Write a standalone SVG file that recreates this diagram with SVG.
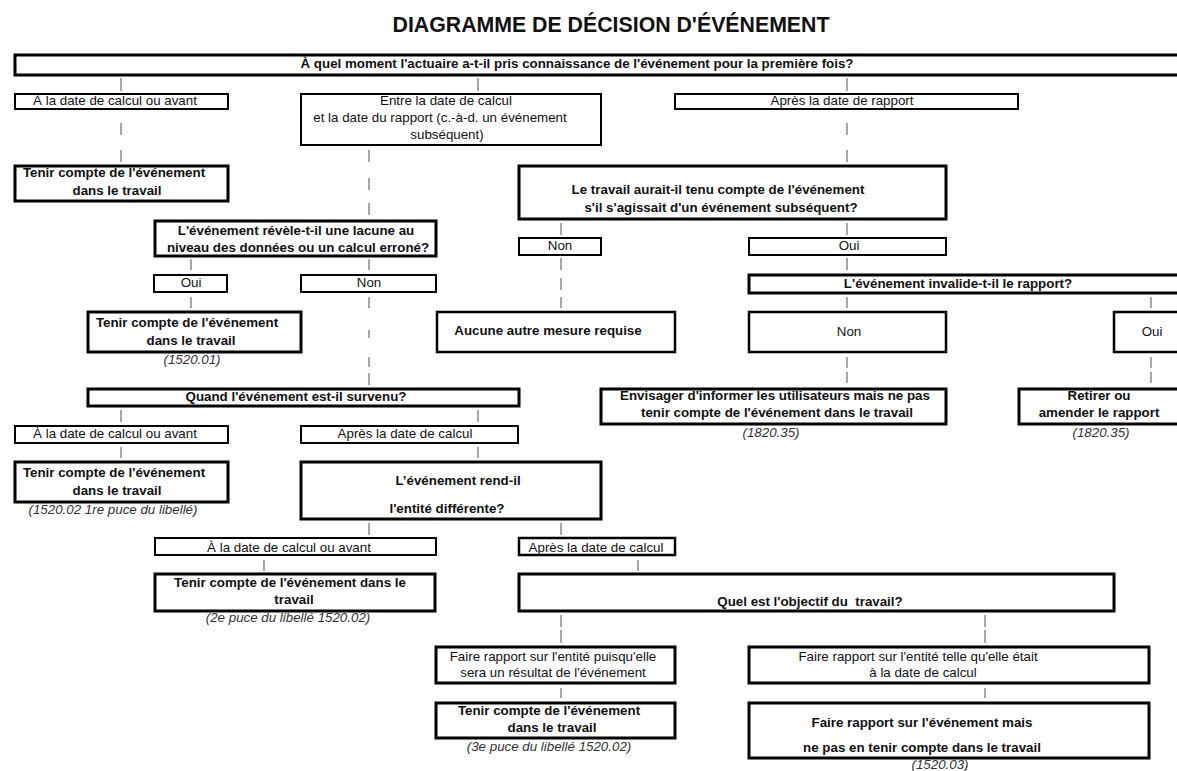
<svg xmlns="http://www.w3.org/2000/svg" width="1177" height="771" viewBox="0 0 1177 771">
<style>
text{font-family:"Liberation Sans",Arial,sans-serif;font-size:13.33px;fill:#111;text-anchor:middle}
.b{font-weight:bold}
.i{font-style:italic;fill:#333}
.t{font-size:21.3px;font-weight:bold}
.box{fill:#fff;stroke:#000;stroke-width:3}
.lbl{fill:#fff;stroke:#000;stroke-width:2}
.c line{stroke:#777;stroke-width:1.3}
</style>
<rect width="1177" height="771" fill="#fff"/>
<text class="t" x="611" y="32">DIAGRAMME DE DÉCISION D'ÉVÉNEMENT</text>

<g class="c" id="connectors">
<line x1="121" y1="78" x2="121" y2="91"/>
<line x1="478" y1="78" x2="478" y2="91"/>
<line x1="847" y1="78" x2="847" y2="91"/>
<line x1="121" y1="123" x2="121" y2="135"/>
<line x1="121" y1="150" x2="121" y2="162"/>
<line x1="847" y1="123" x2="847" y2="135"/>
<line x1="847" y1="150" x2="847" y2="162"/>
<line x1="369" y1="150" x2="369" y2="162"/>
<line x1="369" y1="178" x2="369" y2="190"/>
<line x1="369" y1="203" x2="369" y2="215"/>
<line x1="191" y1="259" x2="191" y2="270"/>
<line x1="369" y1="259" x2="369" y2="270"/>
<line x1="191" y1="297" x2="191" y2="308"/>
<line x1="369" y1="297" x2="369" y2="308"/>
<line x1="369" y1="330" x2="369" y2="338"/>
<line x1="369" y1="357" x2="369" y2="367"/>
<line x1="369" y1="373" x2="369" y2="385"/>
<line x1="561" y1="223" x2="561" y2="235"/>
<line x1="847" y1="223" x2="847" y2="235"/>
<line x1="561" y1="258" x2="561" y2="270"/>
<line x1="561" y1="278" x2="561" y2="290"/>
<line x1="561" y1="297" x2="561" y2="308"/>
<line x1="847" y1="258" x2="847" y2="270"/>
<line x1="847" y1="297" x2="847" y2="308"/>
<line x1="1151" y1="297" x2="1151" y2="308"/>
<line x1="847" y1="357" x2="847" y2="368"/>
<line x1="847" y1="372" x2="847" y2="383"/>
<line x1="1151" y1="357" x2="1151" y2="368"/>
<line x1="1151" y1="372" x2="1151" y2="383"/>
<line x1="121" y1="410" x2="121" y2="422"/>
<line x1="478" y1="410" x2="478" y2="422"/>
<line x1="121" y1="447" x2="121" y2="458"/>
<line x1="478" y1="447" x2="478" y2="458"/>
<line x1="369" y1="523" x2="369" y2="535"/>
<line x1="561" y1="523" x2="561" y2="535"/>
<line x1="264" y1="560" x2="264" y2="571"/>
<line x1="638" y1="560" x2="638" y2="571"/>
<line x1="561" y1="615" x2="561" y2="627"/>
<line x1="561" y1="630" x2="561" y2="643"/>
<line x1="985" y1="615" x2="985" y2="627"/>
<line x1="985" y1="630" x2="985" y2="643"/>
<line x1="561" y1="688" x2="561" y2="698"/>
<line x1="985" y1="688" x2="985" y2="698"/>
</g>

<g id="q1"><rect class="box" x="15" y="55" width="1180" height="20"/>
<text class="b" x="577" y="68">À quel moment l'actuaire a-t-il pris connaissance de l'événement pour la première fois?</text></g>

<g id="a1"><rect class="lbl" x="15" y="94" width="213" height="15"/><text x="115" y="105">À la date de calcul ou avant</text></g>
<g id="a2"><rect class="lbl" x="301" y="94" width="300" height="51"/>
<text x="446" y="105">Entre la date de calcul</text>
<text x="440" y="122">et la date du rapport (c.-à-d. un événement</text>
<text x="447" y="139">subséquent)</text></g>
<g id="a3"><rect class="lbl" x="675" y="94" width="343" height="15"/><text x="842" y="105">Après la date de rapport</text></g>

<g id="r1"><rect class="box" x="15" y="166" width="213" height="35"/>
<text class="b" x="114" y="177">Tenir compte de l'événement</text>
<text class="b" x="117" y="195">dans le travail</text></g>

<g id="q2"><rect class="box" x="519" y="166" width="427" height="53"/>
<text class="b" x="718" y="194">Le travail aurait-il tenu compte de l'événement</text>
<text class="b" x="721" y="212">s'il s'agissait d'un événement subséquent?</text></g>

<g id="q3"><rect class="box" x="155" y="221" width="281" height="35"/>
<text class="b" x="296" y="235">L'événement révèle-t-il une lacune au</text>
<text class="b" x="298" y="252">niveau des données ou un calcul erroné?</text></g>

<g id="l_oui1"><rect class="lbl" x="154" y="275" width="73" height="17"/><text x="191" y="287">Oui</text></g>
<g id="l_non1"><rect class="lbl" x="301" y="275" width="135" height="17"/><text x="369" y="287">Non</text></g>

<g id="r2"><rect class="box" x="88" y="312" width="213" height="40"/>
<text class="b" x="187" y="327">Tenir compte de l'événement</text>
<text class="b" x="191" y="345">dans le travail</text>
<text class="i" x="192" y="364">(1520.01)</text></g>

<g id="l_non2"><rect class="lbl" x="519" y="238" width="82" height="17"/><text x="560" y="250">Non</text></g>
<g id="l_oui2"><rect class="lbl" x="749" y="238" width="197" height="17"/><text x="849" y="250">Oui</text></g>

<g id="q4"><rect class="box" x="749" y="275" width="440" height="18"/>
<text class="b" x="958" y="288">L'événement invalide-t-il le rapport?</text></g>

<g id="r3"><rect class="box" x="437" y="312" width="238" height="40" style="stroke-width:2.5"/>
<text class="b" x="548" y="335">Aucune autre mesure requise</text></g>

<g id="l_non3"><rect class="box" x="749" y="312" width="197" height="40" style="stroke-width:2.5"/><text x="849" y="336">Non</text></g>
<g id="l_oui3"><rect class="box" x="1114" y="312" width="80" height="40" style="stroke-width:2.5"/><text x="1152" y="336">Oui</text></g>

<g id="q5"><rect class="box" x="88" y="389" width="431" height="17"/>
<text class="b" x="296" y="401">Quand l'événement est-il survenu?</text></g>

<g id="r4"><rect class="box" x="601" y="389" width="345" height="35"/>
<text class="b" x="775" y="400">Envisager d'informer les utilisateurs mais ne pas</text>
<text class="b" x="777" y="417">tenir compte de l'événement dans le travail</text>
<text class="i" x="771" y="437">(1820.35)</text></g>

<g id="r5"><rect class="box" x="1019" y="389" width="170" height="35"/>
<text class="b" x="1099" y="400">Retirer ou</text>
<text class="b" x="1099" y="417">amender le rapport</text>
<text class="i" x="1101" y="437">(1820.35)</text></g>

<g id="l_av2"><rect class="lbl" x="15" y="426" width="213" height="17"/><text x="115" y="438">À la date de calcul ou avant</text></g>
<g id="l_ap2"><rect class="lbl" x="301" y="426" width="217" height="17"/><text x="405" y="438">Après la date de calcul</text></g>

<g id="r6"><rect class="box" x="15" y="462" width="213" height="40"/>
<text class="b" x="114" y="477">Tenir compte de l'événement</text>
<text class="b" x="117" y="495">dans le travail</text>
<text class="i" x="113" y="514">(1520.02 1re puce du libellé)</text></g>

<g id="q6"><rect class="box" x="301" y="462" width="300" height="57"/>
<text class="b" x="458" y="485">L’événement rend-il</text>
<text class="b" x="447" y="513">l'entité différente?</text></g>

<g id="l_av3"><rect class="lbl" x="155" y="538" width="281" height="17"/><text x="289" y="552">À la date de calcul ou avant</text></g>
<g id="l_ap3"><rect class="lbl" x="519" y="538" width="156" height="17" style="stroke-width:2.5"/><text x="596" y="552">Après la date de calcul</text></g>

<g id="r7"><rect class="box" x="155" y="574" width="280" height="37"/>
<text class="b" x="290" y="587">Tenir compte de l'événement dans le</text>
<text class="b" x="294" y="604">travail</text>
<text class="i" x="288" y="622">(2e puce du libellé 1520.02)</text></g>

<g id="q7"><rect class="box" x="519" y="574" width="595" height="37"/>
<text class="b" x="810" y="606" xml:space="preserve">Quel est l'objectif du  travail?</text></g>

<g id="l_p1"><rect class="box" x="436" y="647" width="239" height="36"/>
<text x="553" y="661">Faire rapport sur l'entité puisqu'elle</text>
<text x="553" y="677">sera un résultat de l'événement</text></g>

<g id="l_p2"><rect class="box" x="749" y="647" width="400" height="36"/>
<text x="918" y="661">Faire rapport sur l'entité telle qu'elle était</text>
<text x="923" y="677">à la date de calcul</text></g>

<g id="r8"><rect class="box" x="436" y="703" width="239" height="35"/>
<text class="b" x="549" y="715">Tenir compte de l'événement</text>
<text class="b" x="552" y="732">dans le travail</text>
<text class="i" x="549" y="751">(3e puce du libellé 1520.02)</text></g>

<g id="r9"><rect class="box" x="749" y="703" width="400" height="55"/>
<text class="b" x="922" y="727">Faire rapport sur l'événement mais</text>
<text class="b" x="922" y="752">ne pas en tenir compte dans le travail</text>
<text class="i" x="940" y="769">(1520.03)</text></g>
</svg>
